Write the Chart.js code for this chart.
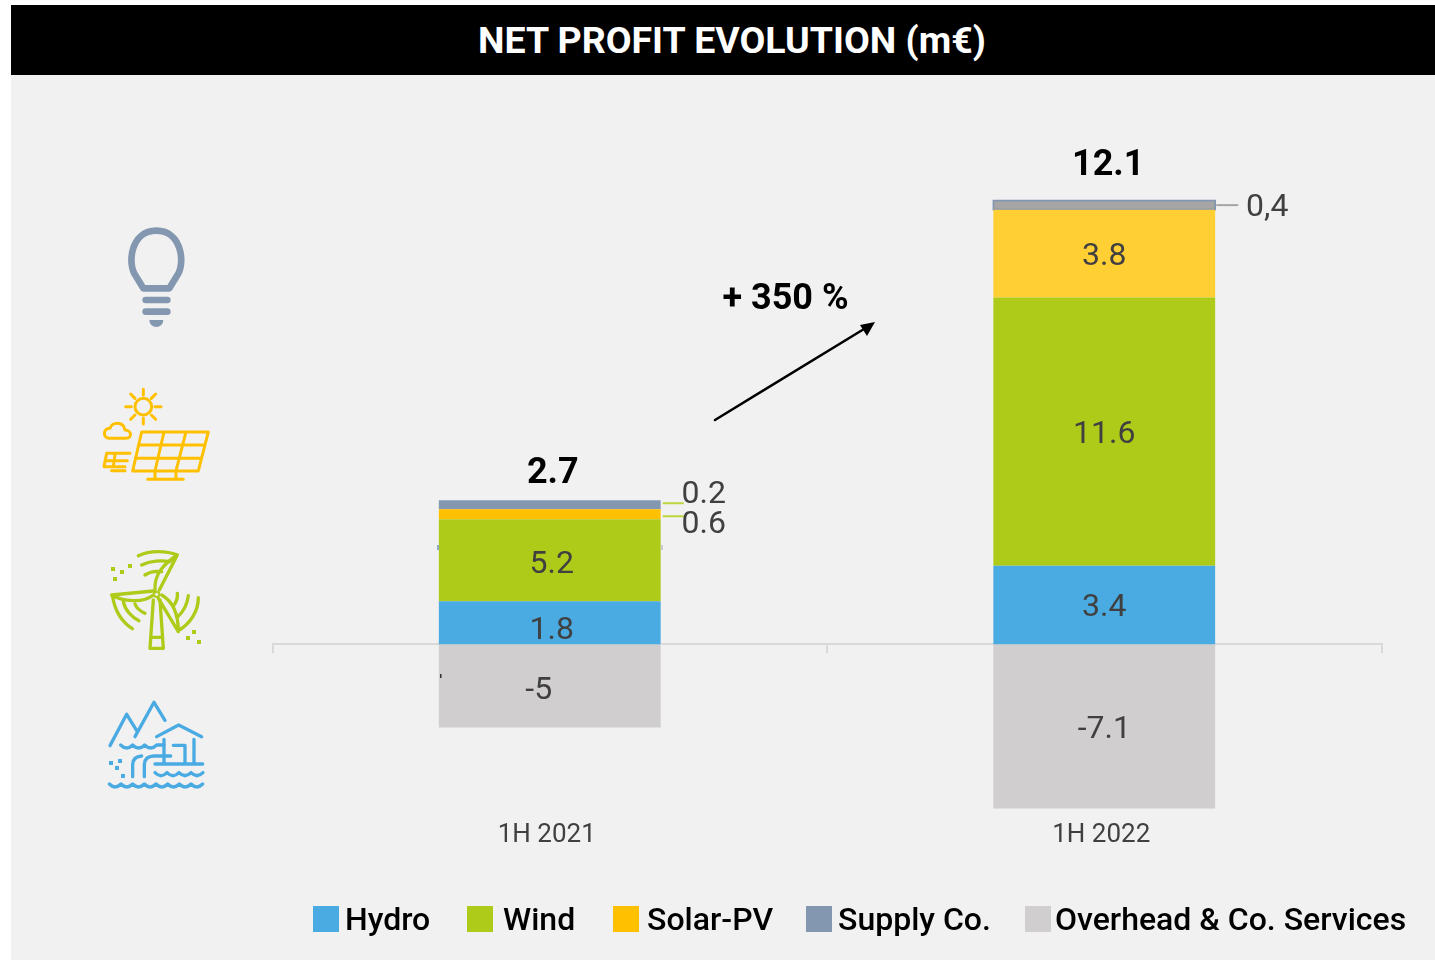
<!DOCTYPE html>
<html>
<head>
<meta charset="utf-8">
<title>Net profit evolution</title>
<script src="https://cdn.jsdelivr.net/npm/chart.js@4"></script>
<style>
  html, body { margin: 0; padding: 0; background: #fff; overflow: hidden; }
  body { width: 1435px; height: 960px; position: relative; font-family: Roboto, sans-serif; }
  #fondo { position: absolute; left: 11px; top: 75px; width: 1424px; height: 885px; background: #f1f1f1; }
  #banda { position: absolute; left: 11px; top: 5px; width: 1424px; height: 70px; background: #000; }
  #titulo { position: absolute; left: 478px; top: 5px; height: 70px; line-height: 70px; color: #fff;
            font-size: 37.5px; font-weight: 700; white-space: nowrap; }
  #grafico { position: absolute; left: 0; top: 0; }
  #iconos { position: absolute; left: 0; top: 0; pointer-events: none; }
  .cuadro { position: absolute; top: 906px; width: 26px; height: 26px; }
  .leyenda { position: absolute; top: 899px; height: 40px; line-height: 40px; font-size: 32px; font-weight: 500;
             color: #000; white-space: nowrap; }
</style>
</head>
<body>
<div id="fondo"></div>
<div id="banda"></div>
<div id="titulo">NET PROFIT EVOLUTION (m€)</div>
<div style="position:absolute;left:0;top:0;width:1435px;height:960px"><canvas id="grafico" width="1435" height="960"></canvas></div>

<svg id="iconos" width="1435" height="960" fill="none" stroke-linecap="round" stroke-linejoin="round">
  <!-- flecha + 350 % -->
  <line x1="715" y1="420" x2="864" y2="329" stroke="#000" stroke-width="2.5"/>
  <polygon points="875,322 860,325 867,336" fill="#000"/>
  <!-- bombilla y panel solar -->
  <g transform="translate(90,210) scale(.3333)">
    <g stroke="#8497b0" stroke-width="20">
      <path d="M160 235 L137 197 C112 165 120 62 199 62 C278 62 286 165 261 197 L238 235 Z"/>
      <path d="M167 270 H232 M167 305 H232"/>
    </g>
    <path d="M178 330 H220 A21 21 0 0 1 178 330 Z" fill="#8497b0"/>
    <g stroke="#ffc000" stroke-width="9">
      <circle cx="160" cy="590" r="25"/>
      <path d="M160 538 V555 M160 625 V642 M107 590 H124 M195 590 H213 M122 552 L135 565 M197 552 L184 565 M122 628 L135 615 M197 628 L184 615"/>
      <path d="M58 685 C38 685 38 655 60 655 C65 635 100 632 105 660 C125 660 128 685 108 685 Z"/>
      <path d="M155 666 H355 L325 783 H128 Z M145 705 H345 M136 745 H335 M222 666 L195 783 M288 666 L258 783 M195 783 V806 M258 783 V806 M173 808 H280"/>
      <path d="M120 730 H50 L42 770 H105 M47 752 H112 M65 782 H105 M75 735 L70 770"/>
    </g>
  </g>
  <!-- molino y central hidro -->
  <g transform="translate(90,530) scale(.3333)">
    <g stroke="#aecb19" stroke-width="10">
      <circle cx="200" cy="193" r="8" stroke-width="6"/>
      <path d="M208 180 L262 75 M195 180 C192 130 225 100 262 75 M145 77 C180 60 230 62 262 75 M155 105 C180 92 215 90 240 95 M165 135 C180 125 195 122 215 125"/>
      <path d="M65 195 L190 183 M65 195 C100 215 160 220 190 195 M68 200 C75 245 95 275 127 296 M100 215 C105 240 125 262 147 272 M135 222 C140 235 150 243 165 250"/>
      <path d="M205 205 L265 305 M215 195 C250 215 265 250 265 305 M325 203 C325 245 300 280 268 300 M295 197 C292 225 280 245 262 262 M262 190 C264 205 258 218 250 228"/>
      <path d="M190 210 L180 355 H220 L210 210 M183 322 H217"/>
    </g>
    <g fill="#aecb19">
      <rect x="63" y="111" width="12" height="12"/><rect x="90" y="120" width="12" height="12"/>
      <rect x="114" y="102" width="12" height="12"/><rect x="69" y="141" width="12" height="12"/>
      <rect x="306" y="300" width="12" height="12"/><rect x="288" y="318" width="12" height="12"/>
      <rect x="321" y="330" width="12" height="12"/>
    </g>
    <g stroke="#4aabe3" stroke-width="10">
      <path d="M60 647 L110 553 L142 605 M135 620 L192 517 L225 571 M200 620 L266 585 L335 620"/>
      <path d="M222 628 V700 M250 646 H285 V700 M312 628 V700 M195 702 H338"/>
      <path d="M92 645 q18 18 36 0 q18 18 36 0 q18 18 36 0 H222"/>
      <path d="M128 740 V705 Q128 680 155 678 M163 740 V705 Q163 680 190 678 H242"/>
      <path d="M195 728 q18 18 36 0 q18 18 36 0 q18 18 36 0 q18 18 36 0"/>
      <path d="M58 762 q17.5 18 35 0 q17.5 18 35 0 q17.5 18 35 0 q17.5 18 35 0 q17.5 18 35 0 q17.5 18 35 0 q17.5 18 35 0 q17.5 18 35 0"/>
    </g>
    <g fill="#4aabe3">
      <rect x="57" y="693" width="12" height="12"/><rect x="84" y="687" width="12" height="12"/>
      <rect x="75" y="708" width="12" height="12"/><rect x="93" y="732" width="12" height="12"/>
    </g>
  </g>
  <!-- restos de seleccion que salen en el original -->
  <rect x="437" y="545" width="2" height="5" fill="#8fa8d0"/>
  <rect x="661" y="545" width="2" height="5" fill="#c8ccd2"/>
  <rect x="440" y="674" width="1.5" height="4" fill="#333"/>
</svg>

<script>
const categorias = ['1H 2021', '1H 2022'];

// alturas de las barras tal como se ven en la imagen (en 1H 2021 no van a escala con su etiqueta)
const hydro = [1.86, 3.4];
const wind = [3.55, 11.6];
const solar = [0.43, 3.8];
const supply = [0.39, 0.4];
const overhead = [-3.6, -7.1];

// textos que lleva cada barra
const hydroTxt = ['1.8', '3.4'];
const windTxt = ['5.2', '11.6'];
const solarTxt = ['0.6', '3.8'];
const supplyTxt = ['0.2', '0,4'];
const overheadTxt = ['-5', '-7.1'];
const totales = ['2.7', '12.1'];

const nombres = ['Hydro', 'Wind', 'Solar-PV', 'Supply Co.', 'Overhead & Co. Services'];
const colorLeyenda = ['#4aabe3', '#aecb19', '#ffc000', '#8497b0', '#d0cece'];

const etiquetasPlugin = {
  id: 'etiquetas',
  afterDatasetsDraw(chart) {
    const ctx = chart.ctx;
    const barra = (ds, i) => chart.getDatasetMeta(ds).data[i];
    const centroY = el => (el.y + el.base) / 2;

    ctx.save();
    ctx.textAlign = 'center';
    ctx.textBaseline = 'middle';

    // etiquetas dentro de las barras
    ctx.fillStyle = '#404040';
    ctx.font = '400 32px Roboto';
    const dentro = [
      [0, 0, hydroTxt[0], 2, 8], [0, 1, hydroTxt[1], 0, 3],
      [1, 0, windTxt[0], 2, 4.5], [1, 1, windTxt[1], 0, 3],
      [2, 1, solarTxt[1], 0, 3],
      [4, 0, overheadTxt[0], -11, 5], [4, 1, overheadTxt[1], 0, 3.5]
    ];
    dentro.forEach(d => {
      const el = barra(d[0], d[1]);
      ctx.fillText(d[2], el.x + d[3], centroY(el) + d[4]);
    });

    // etiquetas de fuera con su linea
    const s21 = barra(3, 0), o21 = barra(2, 0), s22 = barra(3, 1);
    ctx.lineWidth = 2;
    ctx.strokeStyle = '#bed53e';
    ctx.beginPath();
    ctx.moveTo(s21.x + 113, s21.y + 3); ctx.lineTo(s21.x + 134, s21.y + 3);
    ctx.moveTo(o21.x + 113, o21.y + 7); ctx.lineTo(o21.x + 134, o21.y + 7);
    ctx.stroke();
    ctx.strokeStyle = '#a6a6a6';
    ctx.beginPath();
    ctx.moveTo(s22.x + 112, centroY(s22)); ctx.lineTo(s22.x + 134, centroY(s22));
    ctx.stroke();
    ctx.fillText(supplyTxt[0], s21.x + 154, s21.y - 5);
    ctx.fillText(solarTxt[0], o21.x + 154, o21.y + 16);
    ctx.fillText(supplyTxt[1], s22.x + 163, centroY(s22) + 3);

    // totales encima de la pila
    ctx.fillStyle = '#000';
    ctx.font = '700 36px Roboto';
    ctx.fillText(totales[0], s21.x + 3, s21.y - 26);
    ctx.fillText(totales[1], s22.x + 4, s22.y - 34);
    ctx.fillText('+ 350 %', 785.5, 300);
    ctx.restore();
  }
};

const serie = (label, data, backgroundColor, extra) => Object.assign({ label, data, backgroundColor, borderWidth: 0 }, extra);

new Chart(document.getElementById('grafico').getContext('2d'), {
  type: 'bar',
  data: {
    labels: categorias,
    datasets: [
      serie(nombres[0], hydro, '#4aabe3'),
      serie(nombres[1], wind, '#aecb19'),
      serie(nombres[2], solar, ['#ffc000', '#ffcf33']),
      serie(nombres[3], supply, ['#8497b0', '#a5a5a5'], { borderColor: '#8497b0', borderWidth: [0, 2], borderSkipped: false, inflateAmount: [0, 1] }),
      serie(nombres[4], overhead, '#d0cece')
    ]
  },
  options: {
    responsive: false,
    animation: false,
    barPercentage: 0.4,
    categoryPercentage: 1,
    layout: { padding: { left: 272.5, right: 53.5, top: 182, bottom: 108 } },
    plugins: { legend: { display: false }, tooltip: { enabled: false } },
    scales: {
      y: { stacked: true, display: false, min: -7.2, max: 20 },
      x: {
        stacked: true,
        grid: { display: false },
        border: { display: false },
        ticks: { color: '#404040', font: { family: 'Roboto', size: 26, weight: 400 }, padding: 1, labelOffset: -3, maxRotation: 0 }
      },
      eje: {
        type: 'category',
        labels: categorias,
        axis: 'x',
        position: { y: 0 },
        offset: true,
        border: { display: true, color: '#d9d9d9', width: 2 },
        grid: { drawOnChartArea: false, drawTicks: true, tickLength: 8, color: '#d9d9d9', lineWidth: 2, offset: true },
        ticks: { display: false }
      }
    }
  },
  plugins: [etiquetasPlugin]
});

// leyenda en html, el hueco cuadro-texto de la original no se puede con la de Chart.js
const posCuadro = [313, 467, 613, 806, 1025];
const posTexto = [345, 503, 647, 838, 1055];
nombres.forEach((n, i) => {
  const c = document.createElement('div');
  c.className = 'cuadro';
  c.style.left = posCuadro[i] + 'px';
  c.style.background = colorLeyenda[i];
  document.body.appendChild(c);
  const t = document.createElement('div');
  t.className = 'leyenda';
  t.style.left = posTexto[i] + 'px';
  t.textContent = n;
  document.body.appendChild(t);
});
</script>
</body>
</html>
